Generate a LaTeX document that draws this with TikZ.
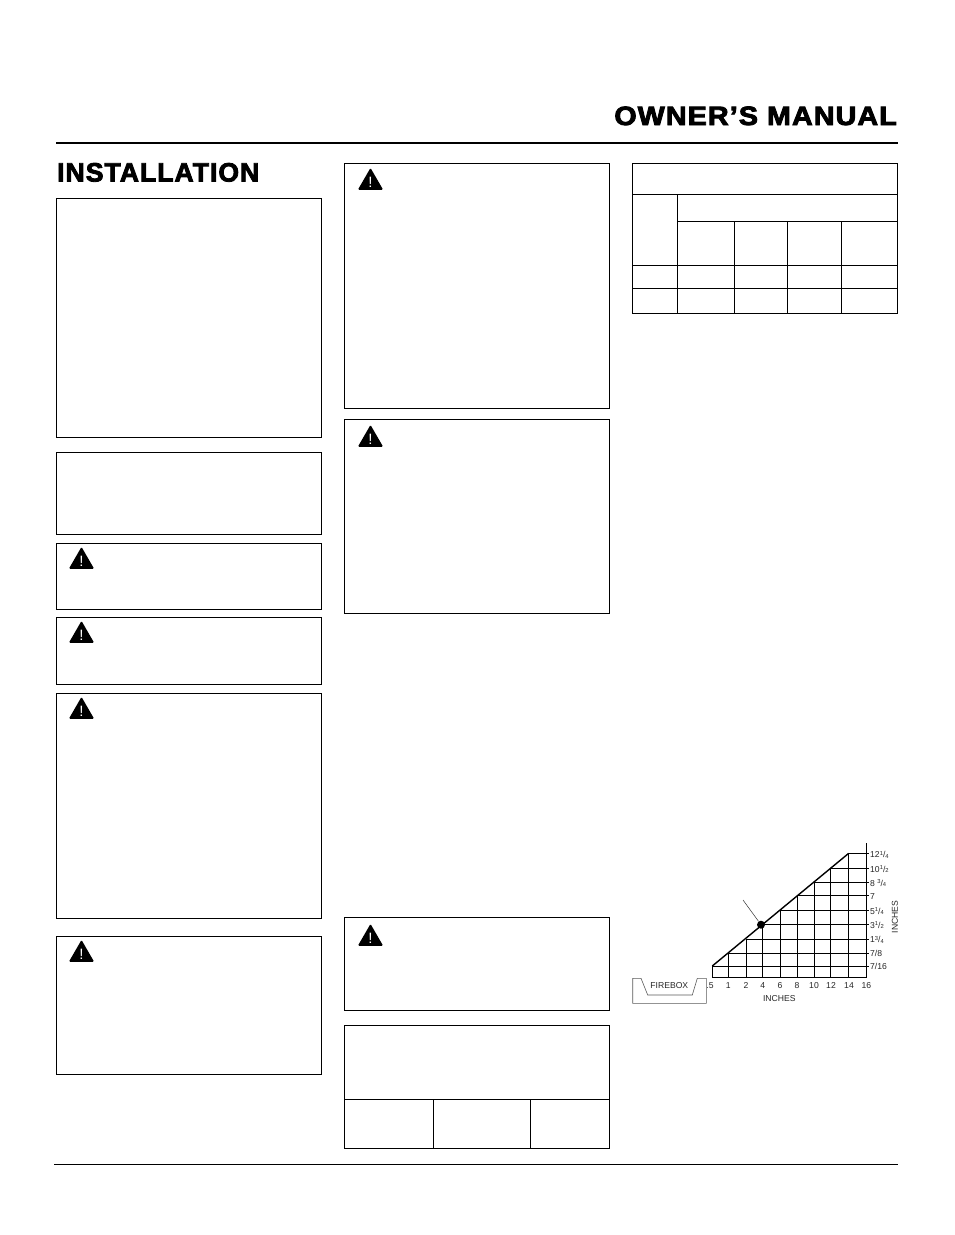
\documentclass[tikz,border=0pt]{standalone}
\usepackage{fontspec}
\setmainfont{Liberation Sans}
\newfontfamily\headfont[BoldFeatures={FakeBold=3.2,LetterSpace=4}]{Liberation Sans}
\usetikzlibrary{shapes.geometric}
\tikzstyle{panel}=[rectangle,draw=black,line width=1pt,inner sep=0pt,outer sep=0pt]
\tikzstyle{warning}=[regular polygon,regular polygon sides=3,fill=black,text=white,inner sep=0pt,minimum size=26.5pt,rounded corners=1.2pt,font=\fontsize{15}{15}\selectfont]
\tikzstyle{tablerule}=[line width=1pt,black]
\tikzstyle{gridline}=[line width=1pt,black]
\tikzstyle{scalelabel}=[inner sep=0pt,font=\fontsize{8.6}{9}\selectfont,text=black!85]
\newcommand{\upfrac}[2]{\raisebox{2.2pt}{\fontsize{5.8}{6}\selectfont #1}/\raisebox{-0.6pt}{\fontsize{5.8}{6}\selectfont #2}}

\begin{document}
\begin{tikzpicture}[x=1pt,y=-1pt]
	\useasboundingbox (0,0) rectangle (954,1235);

	% headings and page rules
	\node[anchor=base east,inner sep=0pt,font=\headfont\bfseries\fontsize{26.5}{28}\selectfont] (title) at (897,125) {\scalebox{1.08}[1]{OWNER’S MANUAL}};
	\node[anchor=base west,inner sep=0pt,font=\headfont\bfseries\fontsize{26.5}{28}\selectfont] (section) at (57,181.5) {INSTALLATION};
	\draw[line width=2pt] (56,142.5) -- (898,142.5);
	\draw[line width=1pt] (54,1164) -- (898,1164);

	% left column
	\node[panel,minimum width=265,minimum height=239] (box1) at (189,317.5) {};
	\node[panel,minimum width=265,minimum height=82] (box2) at (189,493) {};
	\node[panel,minimum width=265,minimum height=66] (box3) at (189,576) {};
	\node[panel,minimum width=265,minimum height=67] (box4) at (189,650.5) {};
	\node[panel,minimum width=265,minimum height=225] (box5) at (189,805.5) {};
	\node[panel,minimum width=265,minimum height=138] (box6) at (189,1005) {};

	\node[warning] (warn3) at (81.5,561.5) {!};
	\node[warning] (warn4) at (81.5,635.5) {!};
	\node[warning] (warn5) at (81.5,711.5) {!};
	\node[warning] (warn6) at (81.5,954.5) {!};

	% middle column
	\node[panel,minimum width=265,minimum height=245] (box7) at (477,285.5) {};
	\node[panel,minimum width=265,minimum height=194] (box8) at (477,516) {};
	\node[panel,minimum width=265,minimum height=93] (box9) at (477,963.5) {};
	\node[panel,minimum width=265,minimum height=123] (box10) at (477,1086.5) {};

	\node[warning] (warn7) at (370.5,182.5) {!};
	\node[warning] (warn8) at (370.5,439.5) {!};
	\node[warning] (warn9) at (370.5,938.5) {!};

	\draw[tablerule] (344.5,1099) -- (609.5,1099);
	\draw[tablerule] (433.5,1099) -- (433.5,1148);
	\draw[tablerule] (530.5,1099) -- (530.5,1148);

	% right column table
	\node[panel,minimum width=265,minimum height=149.5] (table) at (765,238.25) {};
	\draw[tablerule] (632.5,194.5) -- (897.5,194.5);
	\draw[tablerule] (677.5,221.5) -- (897.5,221.5);
	\draw[tablerule] (632.5,265) -- (897.5,265);
	\draw[tablerule] (632.5,288.5) -- (897.5,288.5);
	\draw[tablerule] (677.5,194.5) -- (677.5,313);
	\draw[tablerule] (734.5,221.5) -- (734.5,313);
	\draw[tablerule] (787.5,221.5) -- (787.5,313);
	\draw[tablerule] (841.5,221.5) -- (841.5,313);

	% chart
	\coordinate (base) at (712.3,977.7);
	\coordinate (side) at (868.5,977.7);
	\coordinate (g1) at (712.3,966);
	\coordinate (g2) at (728.3,953);
	\coordinate (g3) at (746,939);
	\coordinate (g4) at (762.7,924.7);
	\coordinate (g5) at (780,910.3);
	\coordinate (g6) at (797,895.7);
	\coordinate (g7) at (814,882.3);
	\coordinate (g8) at (830.7,868.3);
	\coordinate (g9) at (848.7,853.3);

	\draw[gridline] (base) -- (866.3,977.7) -- (866.3,842.7);
	\draw[gridline] (g1 |- base) -- (g1) -- (g1 -| side);
	\draw[gridline] (g2 |- base) -- (g2) -- (g2 -| side);
	\draw[gridline] (g3 |- base) -- (g3) -- (g3 -| side);
	\draw[gridline] (g4 |- base) -- (g4) -- (g4 -| side);
	\draw[gridline] (g5 |- base) -- (g5) -- (g5 -| side);
	\draw[gridline] (g6 |- base) -- (g6) -- (g6 -| side);
	\draw[gridline] (g7 |- base) -- (g7) -- (g7 -| side);
	\draw[gridline] (g8 |- base) -- (g8) -- (g8 -| side);
	\draw[gridline] (g9 |- base) -- (g9) -- (g9 -| side);
	\draw[line width=1.4pt] (g1) -- (g9);

	\node[circle,fill=black,inner sep=0pt,minimum size=8pt] (dot) at (761,924.7) {};
	\coordinate (leader) at (743,900);
	\draw[line width=0.5pt,black!80] (leader) -- (dot);

	\node[scalelabel,anchor=base] (x0) at (710,988) {.5};
	\node[scalelabel,anchor=base] (x1) at (728.3,988) {1};
	\node[scalelabel,anchor=base] (x2) at (746,988) {2};
	\node[scalelabel,anchor=base] (x3) at (762.7,988) {4};
	\node[scalelabel,anchor=base] (x4) at (780,988) {6};
	\node[scalelabel,anchor=base] (x5) at (797,988) {8};
	\node[scalelabel,anchor=base] (x6) at (814,988) {10};
	\node[scalelabel,anchor=base] (x7) at (831,988) {12};
	\node[scalelabel,anchor=base] (x8) at (849,988) {14};
	\node[scalelabel,anchor=base] (x9) at (866.3,988) {16};
	\node[scalelabel,anchor=base] (xname) at (779.3,1001) {INCHES};

	\node[scalelabel,anchor=base west] (y1) at (870,969.5) {7/16};
	\node[scalelabel,anchor=base west] (y2) at (870,956.5) {7/8};
	\node[scalelabel,anchor=base west] (y3) at (870,942.5) {1\upfrac{3}{4}};
	\node[scalelabel,anchor=base west] (y4) at (870,928) {3\upfrac{1}{2}};
	\node[scalelabel,anchor=base west] (y5) at (870,914) {5\upfrac{1}{4}};
	\node[scalelabel,anchor=base west] (y6) at (870,899.5) {7};
	\node[scalelabel,anchor=base west] (y7) at (870,886) {8 \upfrac{3}{4}};
	\node[scalelabel,anchor=base west] (y8) at (870,872) {10\upfrac{1}{2}};
	\node[scalelabel,anchor=base west] (y9) at (870,857.5) {12\upfrac{1}{4}};
	\node[scalelabel,rotate=90] (yname) at (895,917) {INCHES};

	% firebox
	\draw[line width=0.6pt,black!65] (632.7,978.3) -- (641,978.3) -- (647.7,995) -- (692.3,995) -- (697.3,978.3) -- (706.3,978.3) -- (706.3,1003.3) -- (632.7,1003.3) -- cycle;
	\node[scalelabel,anchor=base] (firebox) at (669.3,988) {FIREBOX};
\end{tikzpicture}
\end{document}
